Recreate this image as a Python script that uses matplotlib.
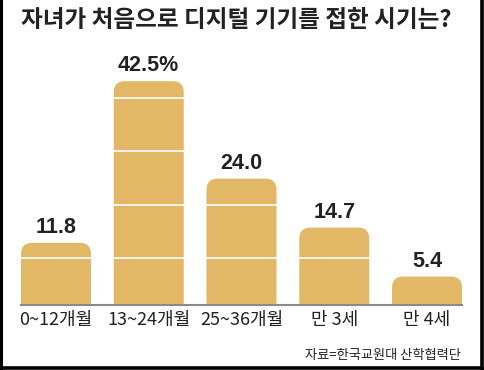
import matplotlib
matplotlib.use("Agg")
import matplotlib.pyplot as plt
from matplotlib.patches import FancyBboxPatch
from matplotlib.lines import Line2D

plt.rcParams['font.family'] = ['Noto Sans CJK KR', 'DejaVu Sans']

# data
categories = ["0~12개월", "13~24개월", "25~36개월", "만 3세", "만 4세"]
values = [11.8, 42.5, 24.0, 14.7, 5.4]
value_labels = ["11.8", "42.5%", "24.0", "14.7", "5.4"]
band_levels = [9, 19, 29.2, 39.3]  # white stripes across the bars

title = "자녀가 처음으로 디지털 기기를 접한 시기는?"
source = "자료=한국교원대 산학협력단"

bar_color = "#E2B866"
text_color = "#222222"

fig = plt.figure(figsize=(4.84, 3.70), dpi=100)
ax = fig.add_axes([21 / 484, 65 / 370, 441 / 484, 237 / 370])

x = list(range(len(values)))
bar_w = 70 / 92.8
bars = ax.bar(x, values, width=bar_w, color=bar_color)
ax.set_xlim(-0.5 * bar_w, len(values) - 1 + 0.5 * bar_w)
ax.set_ylim(0, 45)

# swap the plain bars for ones with rounded tops
fig.canvas.draw()
bbox = ax.get_window_extent()
px_x = bbox.width / (ax.get_xlim()[1] - ax.get_xlim()[0])
px_y = bbox.height / (ax.get_ylim()[1] - ax.get_ylim()[0])
r_px = 11
r_x = r_px / px_x
aspect = (r_px / px_y) / r_x
for b in bars:
    b.set_visible(False)
    bx, bw, bh = b.get_x(), b.get_width(), b.get_height()
    patch = FancyBboxPatch((bx, -5), bw, bh + 5,
                           boxstyle=f"round,pad=0,rounding_size={r_x}",
                           mutation_aspect=aspect,
                           facecolor=bar_color, edgecolor="none", zorder=2)
    ax.add_patch(patch)

for lvl in band_levels:
    ax.axhline(lvl, color="white", lw=1.2, zorder=3)

for xi, v, lab in zip(x, values, value_labels):
    ax.annotate(lab, (xi, v), xytext=(0, 7), textcoords="offset points",
                ha="center", va="baseline", fontsize=15.5, fontweight="bold",
                color=text_color, family=["Liberation Sans", "DejaVu Sans"])

ax.set_xticks(x)
ax.set_xticklabels(categories, fontsize=13, color=text_color)
ax.tick_params(axis="x", length=0, pad=4)
ax.set_yticks([])
for side in ["top", "left", "right"]:
    ax.spines[side].set_visible(False)
ax.spines["bottom"].set_color("#8a8a8a")
ax.spines["bottom"].set_linewidth(1.5)
ax.spines["bottom"].set_zorder(4)

fig.text(236 / 484, 1 - 20 / 370, title, ha="center", va="center",
         fontsize=17, fontweight="bold", color=text_color)
fig.text(461 / 484, 1 - 355 / 370, source, ha="right", va="center",
         fontsize=9.5, color=text_color)

# frame: left, right and bottom edges
fig.add_artist(Line2D([0.002, 0.002], [0, 1], color="black", lw=2.2, transform=fig.transFigure))
fig.add_artist(Line2D([0.996, 0.996], [0, 1], color="black", lw=2.6, transform=fig.transFigure))
fig.add_artist(Line2D([0, 1], [0.005, 0.005], color="black", lw=2.6, transform=fig.transFigure))

fig.savefig("out.png", dpi=100)
